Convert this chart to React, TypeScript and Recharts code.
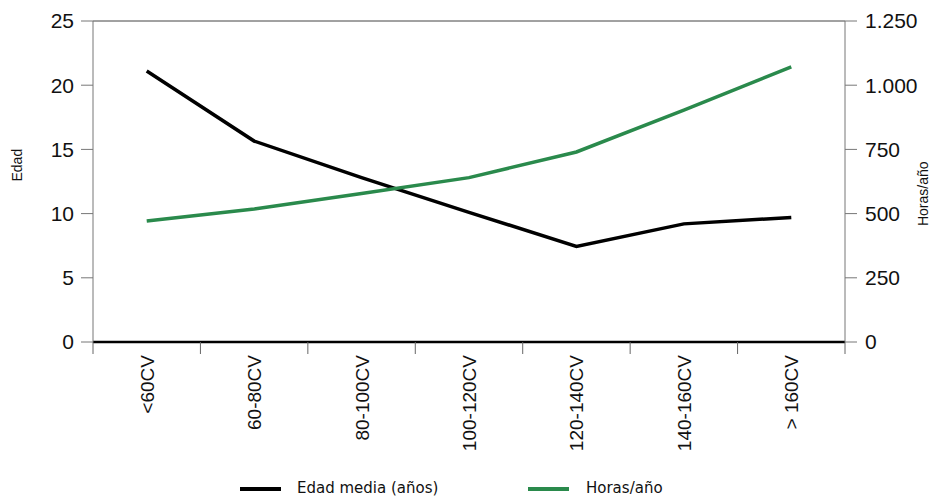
import { CartesianGrid, Legend, Line, LineChart, ReferenceLine, XAxis, YAxis } from 'recharts';

const categories = ['<60CV', '60-80CV', '80-100CV', '100-120CV', '120-140CV', '140-160CV', '> 160CV'];
const edadMedia = [21.1, 15.65, 12.8, 10.1, 7.45, 9.2, 9.7];
const horasAno = [471, 518, 578, 640, 740, 903, 1071];
const leftTicks = [0, 5, 10, 15, 20, 25];
const rightTicks = [0, 250, 500, 750, 1000, 1250];

const GREEN = '#2a8a4c';
const FONT = '"Liberation Sans", Arial, sans-serif';
const BAND = (845 - 93) / categories.length;

const data = categories.map((name, i) => ({ name, edad: edadMedia[i], horas: horasAno[i] }));

const fmtMiles = (v: number) => String(v).replace(/\B(?=(\d{3})+(?!\d))/g, '.');

const CatTick = (props: any) => {
  const { x, y, payload, index } = props;
  const top = y - 4;
  return (
    <g>
      <line x1={x - BAND / 2} x2={x - BAND / 2} y1={top} y2={top + 12} stroke="#666" />
      {index === categories.length - 1 && (
        <line x1={x + BAND / 2} x2={x + BAND / 2} y1={top} y2={top + 12} stroke="#666" />
      )}
      <text
        x={0}
        y={0}
        transform={`translate(${x + 7},${top + 13}) rotate(-90)`}
        textAnchor="end"
        fontSize={19}
        fontFamily={FONT}
        fill="#111"
      >
        {payload.value}
      </text>
    </g>
  );
};

const LegendBox = () => (
  <div style={{ position: 'relative', height: 24, fontFamily: '"DejaVu Sans", sans-serif', fontSize: 15, color: '#111' }}>
    <div style={{ position: 'absolute', left: 240, top: 12, width: 41, height: 4, background: '#000' }} />
    <span style={{ position: 'absolute', left: 297, top: 4 }}>Edad media (años)</span>
    <div style={{ position: 'absolute', left: 528, top: 12, width: 41, height: 4, background: GREEN }} />
    <span style={{ position: 'absolute', left: 586, top: 4 }}>Horas/año</span>
  </div>
);

export default function App() {
  return (
    <div style={{ position: 'absolute', left: 0, top: 0, background: '#fff' }}>
      <LineChart width={934} height={499} data={data} margin={{ top: 21, right: 0, bottom: 0, left: 0 }}>
        <CartesianGrid horizontal={false} vertical={false} />
        <XAxis
          dataKey="name"
          scale="band"
          height={133}
          interval={0}
          tickLine={false}
          tickSize={0}
          tickMargin={4}
          axisLine={{ stroke: '#000', strokeWidth: 2.5 }}
          tick={<CatTick />}
        />
        <YAxis
          yAxisId="left"
          orientation="left"
          width={93}
          domain={[0, 25]}
          ticks={leftTicks}
          interval={0}
          tickSize={12}
          tickMargin={7}
          axisLine={{ stroke: '#777' }}
          tickLine={{ stroke: '#777' }}
          tick={{ fontSize: 21, fontFamily: FONT, fill: '#111' }}
          label={{ value: 'Edad', angle: -90, position: 'insideLeft', offset: 17, style: { fontSize: 14, fontFamily: FONT, fill: '#111' } }}
        />
        <YAxis
          yAxisId="right"
          orientation="right"
          width={89}
          domain={[0, 1250]}
          ticks={rightTicks}
          interval={0}
          tickSize={12}
          tickMargin={8}
          tickFormatter={fmtMiles}
          axisLine={{ stroke: '#777' }}
          tickLine={{ stroke: '#777' }}
          tick={{ fontSize: 21, fontFamily: FONT, fill: '#111' }}
          label={{ value: 'Horas/año', angle: -90, position: 'insideRight', offset: 11, dy: -20, style: { fontSize: 14, fontFamily: FONT, fill: '#111' } }}
        />
        <ReferenceLine yAxisId="left" y={25} stroke="#444" strokeWidth={1} />
        <Line yAxisId="left" type="linear" dataKey="edad" stroke="#000" strokeWidth={3.5} dot={false} isAnimationActive={false} />
        <Line yAxisId="right" type="linear" dataKey="horas" stroke={GREEN} strokeWidth={3.5} dot={false} isAnimationActive={false} />
        <Legend verticalAlign="bottom" content={<LegendBox />} wrapperStyle={{ left: 0, width: 934, bottom: 0 }} />
      </LineChart>
    </div>
  );
}
